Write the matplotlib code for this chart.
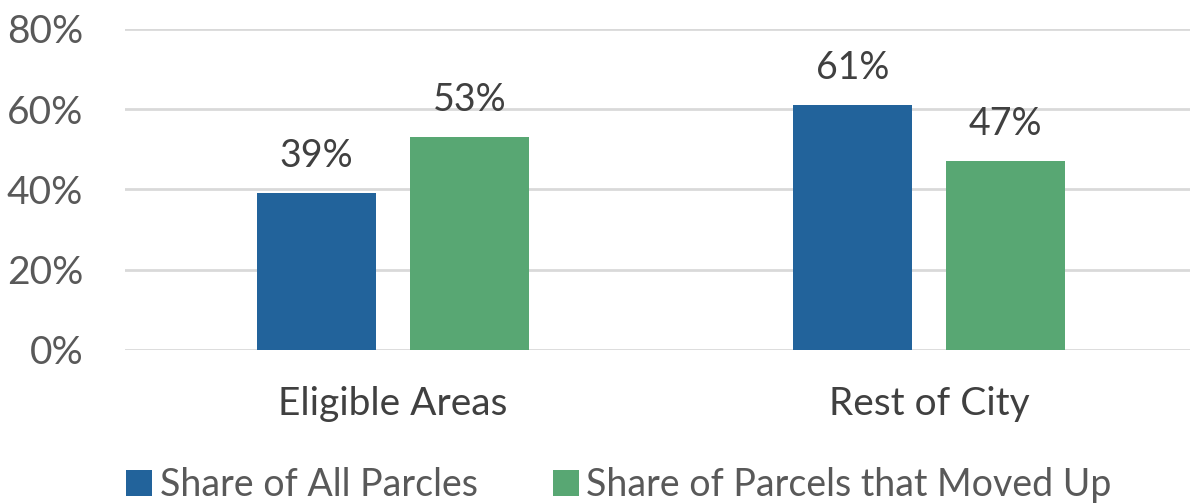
import matplotlib.pyplot as plt
import numpy as np

categories = ["Eligible Areas", "Rest of City"]
series_names = ["Share of All Parcles", "Share of Parcels that Moved Up"]
all_parcels = [39, 61]
moved_up = [53, 47]
yticks = [0, 20, 40, 60, 80]

blue = "#22639B"
green = "#58A773"

plt.rcParams['font.family'] = ['Lato', 'DejaVu Sans']

fig = plt.figure(figsize=(11.9, 5.04), dpi=100)
ax = fig.add_axes([0.105, 0.3056, 0.895, 0.6369])

x = np.arange(len(categories))
w = 0.222
off = 0.143
b1 = ax.bar(x - off, all_parcels, w, color=blue, zorder=3, label=series_names[0])
b2 = ax.bar(x + off, moved_up, w, color=green, zorder=3, label=series_names[1])

for bars, vals in [(b1, all_parcels), (b2, moved_up)]:
    for b, v in zip(bars, vals):
        ax.annotate(f"{v}%", (b.get_x() + b.get_width() / 2, v),
                    xytext=(0, 14), textcoords="offset points",
                    ha="center", va="bottom", fontsize=27, color="#404040")

ax.set_xlim(-0.5, 1.487)
ax.set_ylim(0, 80)
ax.set_yticks(yticks)
ax.set_yticklabels([f"{t}%" for t in yticks])
ax.set_xticks(x)
ax.set_xticklabels(categories)
ax.tick_params(axis="y", length=0, pad=30, labelsize=28, labelcolor="#595959")
ax.tick_params(axis="x", length=0, pad=26, labelsize=28, labelcolor="#404040")
ax.grid(axis="y", color="#D9D9D9", lw=2, zorder=0)
for s in ax.spines.values():
    s.set_visible(False)

fig.legend(handles=[b1, b2], labels=series_names, loc="lower center",
           bbox_to_anchor=(0.52, -0.065), ncol=2, frameon=False, fontsize=27,
           handlelength=0.7, handleheight=0.7, handletextpad=0.2,
           columnspacing=2.0, labelcolor="#595959")

fig.savefig("out.png", dpi=100)
